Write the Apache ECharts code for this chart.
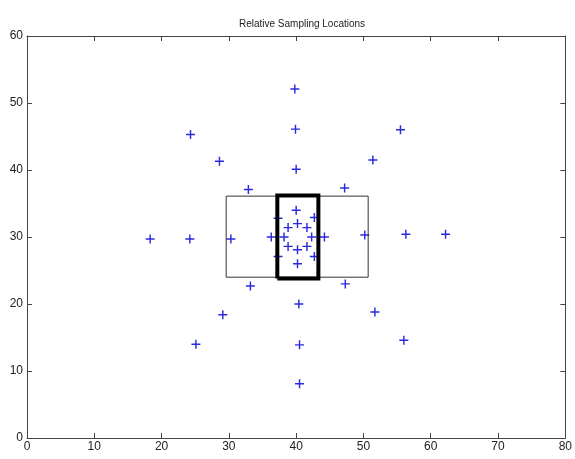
<!DOCTYPE html>
<html>
<head>
<meta charset="utf-8">
<script src="https://cdn.jsdelivr.net/npm/echarts@6/dist/echarts.min.js"></script>
<style>html,body{margin:0;padding:0;background:#fff}#c{width:575px;height:459px}</style>
</head>
<body>
<div id="c"></div>
<script>
// Sampling locations (blue plus markers)
const plusX = [39.8, 55.5, 62.2, 56.0, 40.5, 25.1, 18.3, 24.3,
               39.9, 51.4, 56.3, 51.7, 40.5, 29.1, 24.2, 28.6,
               40.0, 47.2, 50.2, 47.3, 40.4, 33.2, 30.3, 32.9,
               40.0, 42.7, 44.2, 42.7, 40.2, 37.3, 36.3, 37.3,
               40.2, 41.6, 42.3, 41.6, 40.2, 38.8, 38.2, 38.8];
const plusY = [52.1, 46.0, 30.4, 14.6, 8.1, 14.0, 29.7, 45.3,
               46.1, 41.5, 30.4, 18.8, 13.9, 18.4, 29.7, 41.3,
               40.1, 37.3, 30.3, 23.0, 20.0, 22.7, 29.7, 37.1,
               34.0, 32.9, 30.0, 27.1, 26.0, 27.1, 30.0, 32.8,
               32.0, 31.4, 30.0, 28.6, 28.1, 28.6, 30.0, 31.4];
// Center location (red circle)
const centerX = [40];
const centerY = [30];
// Thin outer rectangle corners
const thinRectX = [29.6, 50.7, 50.7, 29.6, 29.6];
const thinRectY = [24.0, 24.0, 36.1, 36.1, 24.0];
// Thick inner rectangle corners
const thickRectX = [37.2, 43.3, 43.3, 37.2, 37.2];
const thickRectY = [23.8, 23.8, 36.2, 36.2, 23.8];
// Axis ticks
const xTicks = [0, 10, 20, 30, 40, 50, 60, 70, 80];
const yTicks = [0, 10, 20, 30, 40, 50, 60];

const zip = (a, b) => a.map((v, i) => [v, b[i]]);
const FONT = 'Liberation Sans, Arial, Helvetica, sans-serif';
const axisCol = '#444';
const plusPath = 'path://M4.2,0h1.6v4.2h4.2v1.6h-4.2v4.2h-1.6v-4.2h-4.2v-1.6h4.2z';

const chart = echarts.init(document.getElementById('c'), null, {renderer: 'canvas'});
const baseX = {
  type: 'value', min: xTicks[0], max: xTicks[xTicks.length - 1], interval: 10,
  axisLine: {show: true, onZero: false, lineStyle: {color: axisCol, width: 1}},
  axisTick: {show: true, inside: true, length: 5, lineStyle: {color: axisCol}},
  splitLine: {show: false}
};
const baseY = {
  type: 'value', min: yTicks[0], max: yTicks[yTicks.length - 1], interval: 10,
  axisLine: {show: true, onZero: false, lineStyle: {color: axisCol, width: 1}},
  axisTick: {show: true, inside: true, length: 5, lineStyle: {color: axisCol}},
  splitLine: {show: false}
};
chart.setOption({
  animation: false,
  backgroundColor: '#fff',
  title: {
    text: 'Relative Sampling Locations',
    left: 297, top: 14, textAlign: 'center',
    textStyle: {fontFamily: FONT, fontSize: 10, fontWeight: 'normal', color: '#222'}
  },
  grid: {left: 27, right: 9, top: 36, bottom: 21, containLabel: false},
  xAxis: [
    Object.assign({}, baseX, {position: 'bottom',
      axisLabel: {show: true, margin: 3, fontFamily: FONT, fontSize: 12, color: '#222'}}),
    Object.assign({}, baseX, {position: 'top', axisLabel: {show: false}})
  ],
  yAxis: [
    Object.assign({}, baseY, {position: 'left',
      axisLabel: {show: true, margin: 4, fontFamily: FONT, fontSize: 12, color: '#222'}}),
    Object.assign({}, baseY, {position: 'right', axisLabel: {show: false}})
  ],
  series: [
    {
      type: 'scatter', data: zip(plusX, plusY), symbol: plusPath, symbolSize: 9,
      itemStyle: {color: '#2b2bdd', opacity: 1}, z: 2
    },
    {
      type: 'line', data: zip(thinRectX, thinRectY), showSymbol: false, symbol: 'none',
      lineStyle: {color: '#333', width: 1}, z: 3
    },
    {
      type: 'line', data: zip(thickRectX, thickRectY), showSymbol: false, symbol: 'none',
      lineStyle: {color: '#000', width: 4, join: 'miter'}, z: 4
    },
    {
      type: 'scatter', data: zip(centerX, centerY), symbol: 'emptyCircle', symbolSize: 9,
      itemStyle: {color: '#fff', borderColor: '#e02020', borderWidth: 1.5}, z: 5
    }
  ]
});
</script>
</body>
</html>
